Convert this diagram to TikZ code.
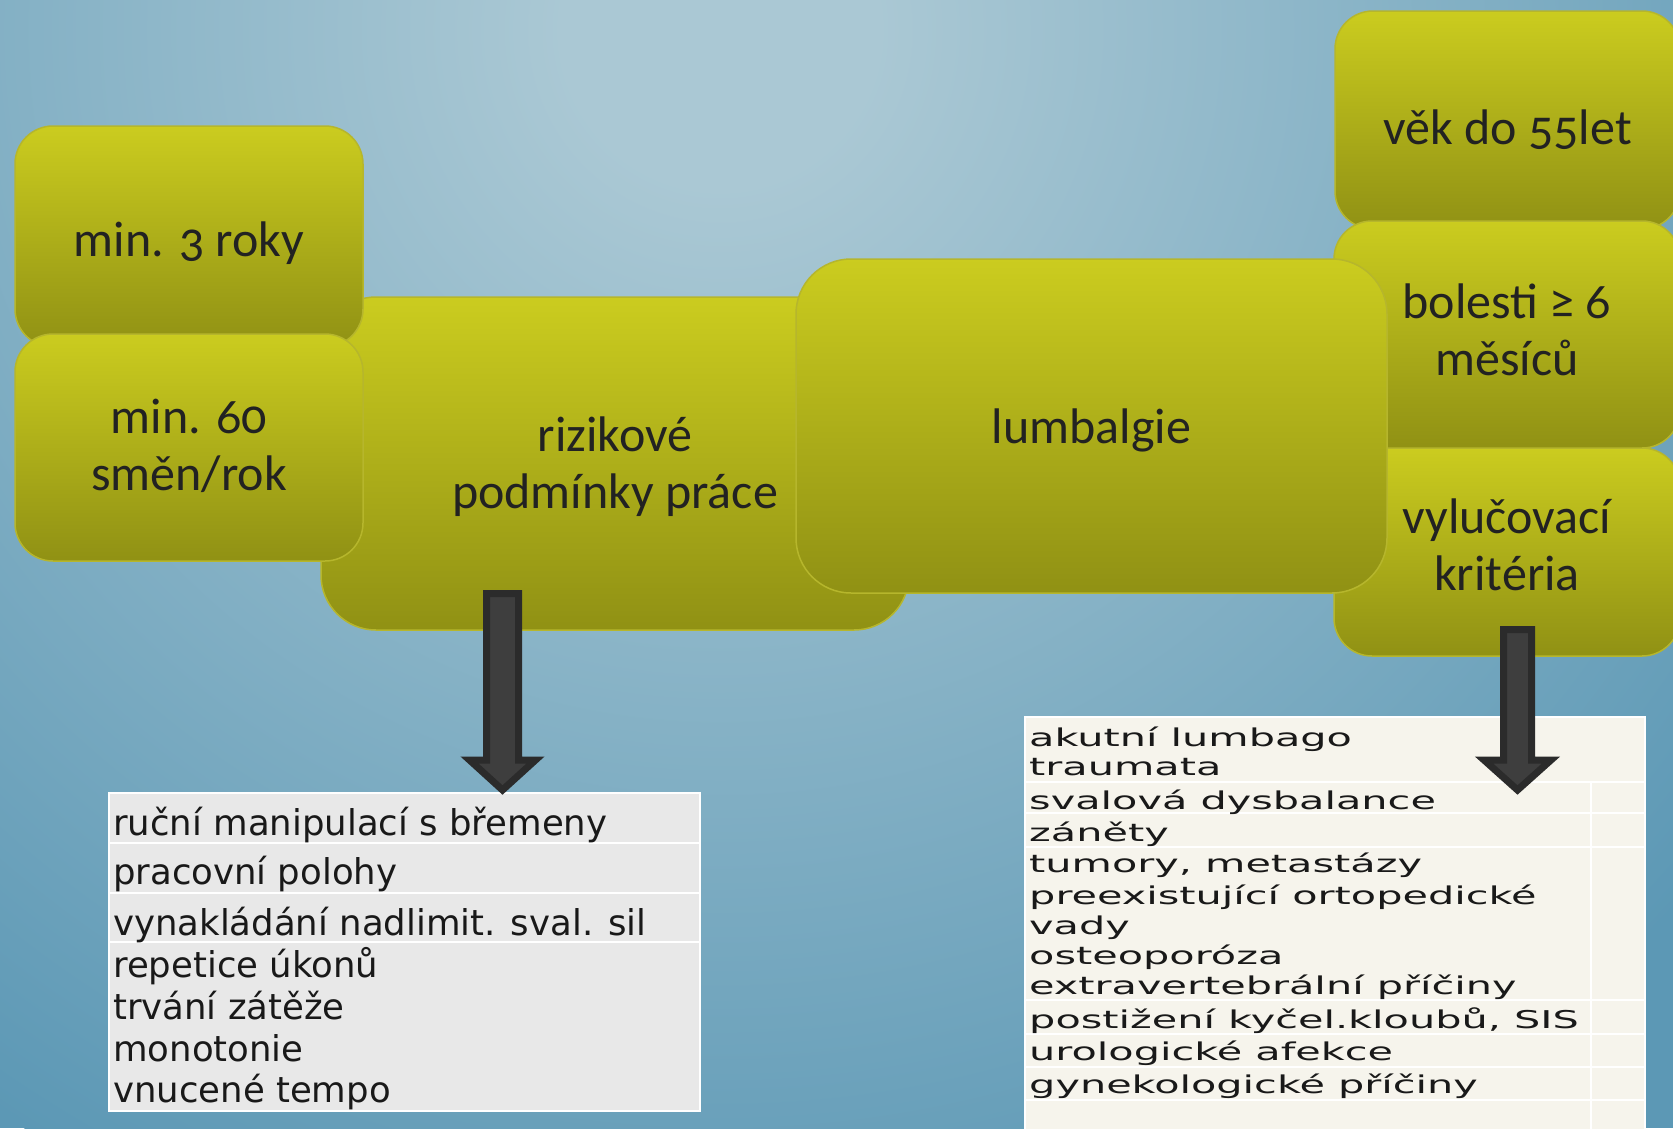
\documentclass[tikz,border=0pt]{standalone}
\usepackage{fontspec}
\usetikzlibrary{calc}
\newfontfamily\boxfont[Numbers=OldStyle]{Carlito}
\newfontfamily\listfont{DejaVu Sans}
\definecolor{bgin}{HTML}{AAC8D4}
\definecolor{bgout}{HTML}{5C98B5}
\definecolor{boxtop}{HTML}{CBCC1F}
\definecolor{boxbot}{HTML}{909114}
\definecolor{boxline}{HTML}{B6B62C}
\definecolor{boxtext}{HTML}{222222}
\definecolor{arrfill}{HTML}{3E3E3E}
\definecolor{arrline}{HTML}{2B2B2B}
\definecolor{tabL}{HTML}{E8E8E8}
\definecolor{tabR}{HTML}{F6F4EC}
\pgfdeclareradialshading{bgshade}{\pgfpoint{0bp}{0bp}}{color(0bp)=(bgin); color(3bp)=(bgin); color(25bp)=(bgout); color(50bp)=(bgout)}
\tikzset{
  gbox/.style={draw=boxline, line width=1.5pt, top color=boxtop, bottom color=boxbot,
    inner sep=0pt, align=center, text=boxtext, font=\boxfont\fontsize{50pt}{58.7pt}\selectfont},
  barrow/.style={fill=arrfill, draw=arrline, line width=7pt, line join=miter},
  ltext/.style={anchor=base west, inner sep=0pt, text=black!90, font=\listfont\fontsize{35.5pt}{42pt}\selectfont},
  rtext/.style={anchor=base west, inner sep=0pt, text=black!90, font=\listfont\fontsize{24.5pt}{28pt}\selectfont},
  sepline/.style={draw=white, line width=2.5pt}
}
\newcommand{\wide}[1]{\scalebox{1.69}[1]{#1}}
\newcommand{\lowr}[2]{\raisebox{-#1}[\height][\depth]{\begin{tabular}{@{}c@{}}#2\end{tabular}}}
\newcommand{\lowt}[2]{\raisebox{-#1}[\height][\depth]{#2}}
\begin{document}
\begin{tikzpicture}[x=1pt, y=-1pt]
\useasboundingbox (0,0) rectangle (1673,1128);
\clip (0,0) rectangle (1673,1128);
\fill[bgout] (0,0) rectangle (1673,1128);
\shade[shading=bgshade] (720,30) circle (1300);

% boxes
\node[gbox, rounded corners=55pt, minimum width=588pt, minimum height=333pt] (C) at (615,463.5) {\lowr{5pt}{rizikové\\[-1.3pt]podmínky práce}};
\node[gbox, rounded corners=38pt, minimum width=348pt, minimum height=221pt] (A) at (189,236.5) {\lowt{7pt}{min. 3 roky}};
\node[gbox, rounded corners=38pt, minimum width=348pt, minimum height=227pt] (B) at (189,447.5) {\lowr{3pt}{min. 60\\[-1.3pt]směn/rok}};
\node[gbox, rounded corners=38pt, minimum width=345pt, minimum height=218pt] (E) at (1507.5,120) {\lowt{10pt}{věk do 55let}};
\node[gbox, rounded corners=38pt, minimum width=346pt, minimum height=208pt] (G) at (1507,552) {\lowr{-2pt}{vylučovací\\[-1.3pt]kritéria}};
\node[gbox, rounded corners=38pt, minimum width=346pt, minimum height=227pt] (F) at (1507,334.5) {\lowr{1pt}{bolesti ≥ 6\\[-1.3pt]měsíců}};
\node[gbox, rounded corners=55pt, minimum width=591pt, minimum height=334pt] (D) at (1091.5,426) {\lowt{4pt}{lumbalgie}};

% left table
\node[draw=white, line width=2.5pt, fill=tabL, minimum width=591pt, minimum height=318pt, inner sep=0pt] (TL) at (404.5,952) {};
\coordinate (tl1) at (109,843); \coordinate (tr1) at (700,843);
\coordinate (tl2) at (109,893); \coordinate (tr2) at (700,893);
\coordinate (tl3) at (109,942); \coordinate (tr3) at (700,942);
\draw[sepline] (tl1) -- (tr1);
\draw[sepline] (tl2) -- (tr2);
\draw[sepline] (tl3) -- (tr3);
\node[ltext] (l1) at (113,835) {ruční manipulací s břemeny};
\node[ltext] (l2) at (113,884) {pracovní polohy};
\node[ltext] (l3) at (113,935) {vynakládání nadlimit. sval. sil};
\node[ltext] (l4) at (113,977) {repetice úkonů};
\node[ltext] (l5) at (113,1019) {trvání zátěže};
\node[ltext] (l6) at (113,1061) {monotonie};
\node[ltext] (l7) at (113,1102) {vnucené tempo};

% right table
\node[draw=white, line width=2.5pt, fill=tabR, minimum width=620pt, minimum height=440pt, inner sep=0pt] (TR) at (1335,937) {};
\foreach \yy/\nm in {782/a,813/b,847/c,1000/d,1034/e,1067/f,1100/g}{
  \coordinate (rl\nm) at (1025,\yy); \coordinate (rr\nm) at (1645,\yy);
  \draw[sepline, line width=2pt] (rl\nm) -- (rr\nm);
}
\coordinate (vt) at (1591,782); \coordinate (vb) at (1591,1160);
\draw[sepline, line width=2pt] (vt) -- (vb);
\node[rtext] (r1) at (1029,746) {\wide{akutní lumbago}};
\node[rtext] (r2) at (1029,775) {\wide{traumata}};
\node[rtext] (r3) at (1029,809) {\wide{svalová dysbalance}};
\node[rtext] (r4) at (1029,841) {\wide{záněty}};
\node[rtext] (r5) at (1029,872) {\wide{tumory, metastázy}};
\node[rtext] (r6) at (1029,904) {\wide{preexistující ortopedické}};
\node[rtext] (r7) at (1029,934) {\wide{vady}};
\node[rtext] (r8) at (1029,964) {\wide{osteoporóza}};
\node[rtext] (r9) at (1029,994) {\wide{extravertebrální příčiny}};
\node[rtext] (r10) at (1029,1028) {\wide{postižení kyčel.kloubů, SIS}};
\node[rtext] (r11) at (1029,1060) {\wide{urologické afekce}};
\node[rtext] (r12) at (1029,1093) {\wide{gynekologické příčiny}};

% arrows
\coordinate (aL0) at (502.5,593.5);
\coordinate (aL1) at (502.5,790);
\draw[barrow] ($(aL0)+(-16,0)$) -- ($(aL0)+(16,0)$) -- ($(aL1)+(16,-30)$) -- ($(aL1)+(33,-30)$) -- (aL1) -- ($(aL1)+(-33,-30)$) -- ($(aL1)+(-16,-30)$) -- cycle;
\coordinate (aR0) at (1517.5,629.5);
\coordinate (aR1) at (1517.5,790);
\draw[barrow] ($(aR0)+(-14,0)$) -- ($(aR0)+(14,0)$) -- ($(aR1)+(14,-30)$) -- ($(aR1)+(33.5,-30)$) -- (aR1) -- ($(aR1)+(-33.5,-30)$) -- ($(aR1)+(-14,-30)$) -- cycle;
\end{tikzpicture}
\end{document}
